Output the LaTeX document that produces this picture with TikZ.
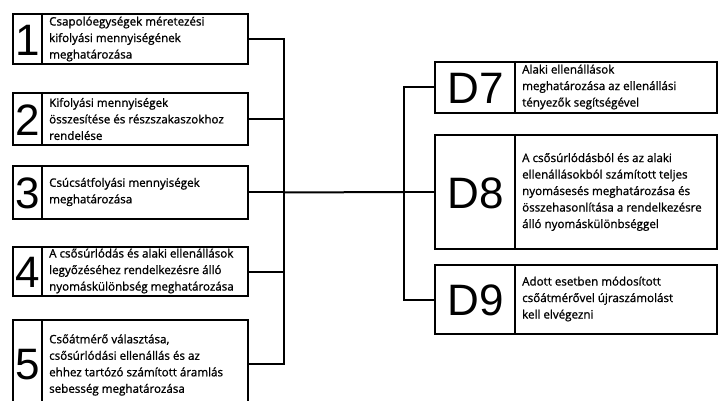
\documentclass[tikz,border=0pt]{standalone}
\usepackage{fontspec}
\setmainfont{Open Sans}
\newfontfamily\txtfont{Open Sans}[FakeBold=1.1]
\newfontfamily\numfont{Liberation Sans}
\begin{document}
\begin{tikzpicture}[x=1pt,y=-1pt,
  box/.style={draw=black, line width=2pt, minimum width=#1, inner sep=0pt, fill=white},
  numlbl/.style={font=\numfont\fontsize{44}{44}\selectfont, inner sep=0pt},
  txt/.style={anchor=west, align=left, inner sep=0pt, font=\txtfont\fontsize{11.6}{16.5}\selectfont},
  wire/.style={line width=2pt, line cap=rect}]
\useasboundingbox (0,0) rectangle (718,401);
\begin{scope}
\clip (0,0) rectangle (718,401);
% left column
\node[box=235pt, minimum height=50pt] (b1) at (130.5,39) {};
\node[box=235pt, minimum height=52pt] (b2) at (130.5,119) {};
\node[box=235pt, minimum height=53pt] (b3) at (130.5,192.5) {};
\node[box=235pt, minimum height=49pt] (b4) at (130.5,271.5) {};
\node[box=235pt, minimum height=88pt] (b5) at (130.5,364) {};
\foreach \b in {b1,b2,b3,b4,b5}{
  \draw[line width=2pt] ([xshift=30pt]\b.north west) -- ([xshift=30pt]\b.south west);
}
\node[numlbl] (n1) at (28,40) {1};
\node[numlbl] (n2) at (28,120) {2};
\node[numlbl] (n3) at (28,193) {3};
\node[numlbl] (n4) at (28,272) {4};
\node[numlbl] (n5) at (28,365) {5};
\node[txt] (t1) at (49,39) {Csapolóegységek méretezési\\kifolyási mennyiségének\\meghatározása};
\node[txt] (t2) at (49,119) {Kifolyási mennyiségek\\összesítése és részszakaszokhoz\\rendelése};
\node[txt] (t3) at (49,192) {Csúcsátfolyási mennyiségek\\meghatározása};
\node[txt] (t4) at (49,271) {A csősúrlódás és alaki ellenállások\\legyőzéséhez rendelkezésre álló\\nyomáskülönbség meghatározása};
\node[txt] (t5) at (49,365) {Csőátmérő választása,\\csősúrlódási ellenállás és az\\ehhez tartózó számított áramlás\\sebesség meghatározása};
% right column
\node[box=282pt, minimum height=51pt] (d7) at (576,87.5) {};
\node[box=282pt, minimum height=114pt] (d8) at (576,192) {};
\node[box=282pt, minimum height=69pt] (d9) at (576,299.5) {};
\foreach \b in {d7,d8,d9}{
  \draw[line width=2pt] ([xshift=81pt]\b.north west) -- ([xshift=81pt]\b.south west);
}
\node[numlbl] (l7) at (475.5,88) {D7};
\node[numlbl] (l8) at (475.5,193) {D8};
\node[numlbl] (l9) at (475.5,300) {D9};
\node[txt] (s7) at (522,87) {Alaki ellenállások\\meghatározása az ellenállási\\tényezők segítségével};
\node[txt] (s8) at (522,192) {A csősúrlódásból és az alaki\\ellenállásokból számított teljes\\nyomásesés meghatározása és\\összehasonlítása a rendelkezésre\\álló nyomáskülönbséggel};
\node[txt] (s9) at (522,299) {Adott esetben módosított\\csőátmérővel újraszámolást\\kell elvégezni};
% buses
\coordinate (busL) at (284,0);
\coordinate (busR) at (404,0);
\foreach \b in {b1,b2,b3,b4,b5}{
  \draw[wire] (\b.east) -- (\b.east -| busL);
}
\draw[wire] (b1.east -| busL) -- (b5.east -| busL);
\draw[wire] (b3.east -| busL) -- (d8.west -| busR);
\foreach \b in {d7,d8,d9}{
  \draw[wire] (\b.west) -- (\b.west -| busR);
}
\draw[wire] (d7.west -| busR) -- (d9.west -| busR);
\end{scope}
\end{tikzpicture}
\end{document}
